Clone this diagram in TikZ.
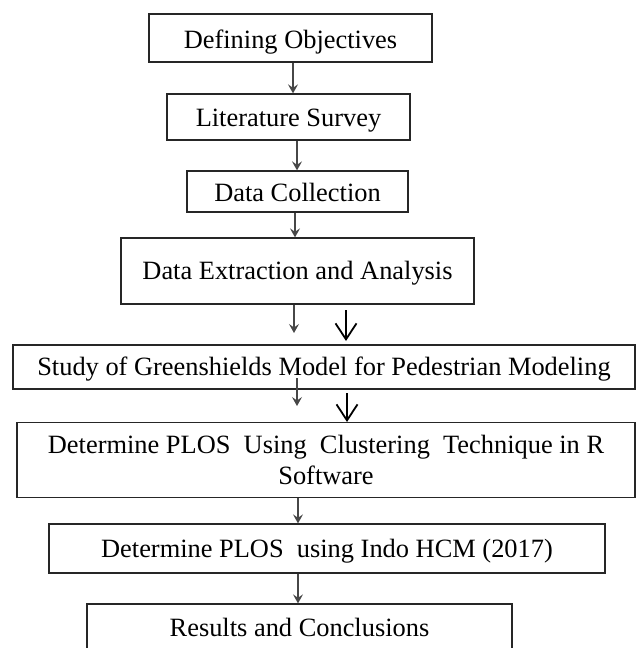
\documentclass[tikz,border=0pt]{standalone}
\usepackage{fontspec}
\setmainfont{Liberation Serif}
\usetikzlibrary{arrows.meta}
\tikzset{
  box/.style={draw=black!85, line width=1.3pt, fill=white, inner sep=0pt, align=center,
    font=\fontsize{26.4}{31}\selectfont, text=black},
  oneline/.style={text height=18pt, text depth=0pt},
  thinarrow/.style={draw=black!72, line width=1.1pt, -{Stealth[length=9pt,width=10pt,inset=3.5pt]}},
  bigarrow/.style={draw=black, line width=1.8pt, -{Straight Barb[length=16pt,width=21pt]}}
}
\begin{document}
\begin{tikzpicture}[x=1pt,y=-1pt]
\useasboundingbox (0,0) rectangle (636,648);
\clip (0,0) rectangle (636,648);
\fill[white] (0,0) rectangle (636,648);
\node[box, oneline, text height=20pt, minimum width=283pt, minimum height=48pt] (b1) at (290.5,38) {Defining Objectives};
\node[box, oneline, minimum width=243pt, minimum height=46pt] (b2) at (288.5,117) {Literature Survey};
\node[box, oneline, text height=19pt, minimum width=221pt, minimum height=41pt] (b3) at (297.5,191.5) {Data Collection};
\node[box, oneline, text height=16pt, minimum width=353pt, minimum height=66pt] (b4) at (297.5,271) {Data Extraction and Analysis};
\node[box, oneline, text height=16pt, minimum width=622pt, minimum height=44pt] (b5) at (324,367) {Study of Greenshields Model for Pedestrian Modeling};
\node[box, minimum width=618pt, minimum height=75pt] (b6) at (326,460) {Determine PLOS\ \ Using\ \ Clustering\ \ Technique in R\\Software};
\node[box, oneline, text height=17pt, minimum width=556pt, minimum height=49pt] (b7) at (327,548.5) {Determine PLOS\ \ using Indo HCM (2017)};
\node[box, oneline, text height=17pt, minimum width=425pt, minimum height=48pt] (b8) at (299.5,628) {Results and Conclusions};
% vertical axes of the thin arrows
\coordinate (x1) at (293,0);
\coordinate (x2) at (297,0);
\coordinate (x3) at (295,0);
\coordinate (x6) at (298,0);
% free ends
\coordinate (s4) at (294,304);
\coordinate (e4) at (294,333);
\coordinate (s5) at (297,378);
\coordinate (e5) at (297,406);
\coordinate (g1s) at (346,310);
\coordinate (g1e) at (346,341);
\coordinate (g2s) at (347,393);
\coordinate (g2e) at (347,422);
% connectors
\draw[thinarrow] (b1.south -| x1) -- (b2.north -| x1);
\draw[thinarrow] (b2.south -| x2) -- (b3.north -| x2);
\draw[thinarrow] (b3.south -| x3) -- (b4.north -| x3);
\draw[thinarrow] (b4.south -| s4) -- (e4);
\draw[thinarrow] (s5) -- (e5);
\draw[thinarrow] (b6.south -| x6) -- (b7.north -| x6);
\draw[thinarrow] (b7.south -| x6) -- (b8.north -| x6);
\draw[bigarrow] (g1s) -- (g1e);
\draw[bigarrow] (g2s) -- (g2e);
\end{tikzpicture}
\end{document}
